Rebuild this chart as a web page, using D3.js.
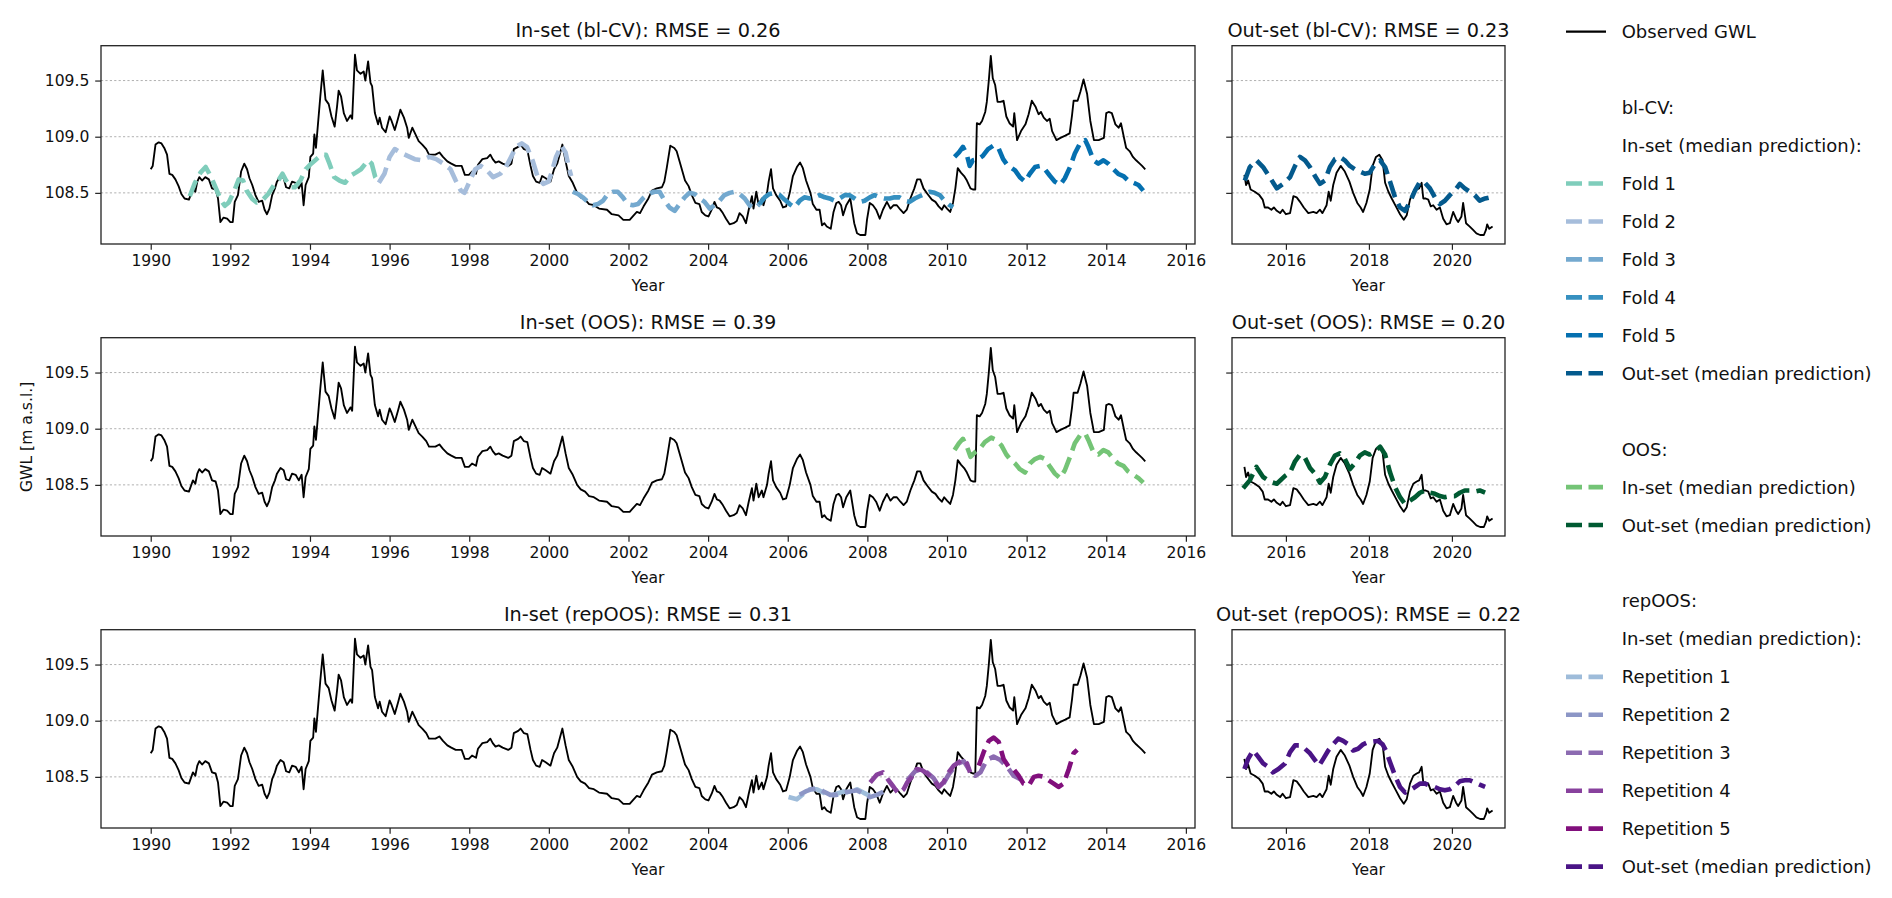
<!DOCTYPE html>
<html><head><meta charset="utf-8">
<script src="https://cdn.jsdelivr.net/npm/d3@7"></script>
<style>body{margin:0;background:#fff}svg{font-family:"DejaVu Sans",sans-serif}</style>
</head><body><svg id="c" width="1892" height="898"></svg>
<script>
// ---------------- DATA ----------------
const obsIn = [[1990.00,108.71],[1990.05,108.74],[1990.12,108.93],[1990.20,108.95],[1990.27,108.94],[1990.34,108.90],[1990.41,108.84],[1990.47,108.67],[1990.54,108.66],[1990.62,108.62],[1990.70,108.56],[1990.77,108.49],[1990.85,108.45],[1990.96,108.44],[1991.02,108.50],[1991.06,108.54],[1991.12,108.51],[1991.17,108.60],[1991.22,108.64],[1991.29,108.61],[1991.37,108.64],[1991.46,108.62],[1991.54,108.54],[1991.63,108.53],[1991.69,108.45],[1991.75,108.24],[1991.83,108.28],[1991.92,108.27],[1992.00,108.24],[1992.06,108.24],[1992.11,108.42],[1992.19,108.48],[1992.27,108.69],[1992.35,108.76],[1992.42,108.71],[1992.48,108.63],[1992.55,108.57],[1992.63,108.48],[1992.71,108.42],[1992.80,108.43],[1992.86,108.35],[1992.92,108.31],[1992.98,108.36],[1993.05,108.48],[1993.12,108.54],[1993.17,108.60],[1993.26,108.65],[1993.34,108.63],[1993.40,108.55],[1993.48,108.54],[1993.55,108.60],[1993.64,108.59],[1993.72,108.54],[1993.79,108.59],[1993.84,108.39],[1993.89,108.57],[1993.97,108.64],[1994.01,108.82],[1994.08,108.85],[1994.11,109.02],[1994.15,108.90],[1994.20,109.11],[1994.26,109.36],[1994.32,109.59],[1994.39,109.33],[1994.47,109.29],[1994.54,109.18],[1994.62,109.09],[1994.68,109.27],[1994.72,109.41],[1994.78,109.36],[1994.85,109.21],[1994.93,109.14],[1995.02,109.19],[1995.06,109.16],[1995.13,109.73],[1995.18,109.59],[1995.27,109.56],[1995.35,109.58],[1995.39,109.50],[1995.46,109.67],[1995.52,109.48],[1995.56,109.45],[1995.63,109.21],[1995.71,109.11],[1995.75,109.17],[1995.81,109.08],[1995.90,109.04],[1996.00,109.18],[1996.05,109.14],[1996.13,109.06],[1996.21,109.16],[1996.27,109.24],[1996.36,109.17],[1996.44,109.08],[1996.48,108.99],[1996.57,109.08],[1996.65,109.02],[1996.73,108.96],[1996.82,108.93],[1996.92,108.89],[1996.99,108.84],[1997.15,108.84],[1997.25,108.86],[1997.34,108.82],[1997.45,108.78],[1997.55,108.76],[1997.66,108.74],[1997.81,108.74],[1997.89,108.66],[1997.99,108.66],[1998.07,108.69],[1998.17,108.67],[1998.22,108.75],[1998.33,108.80],[1998.45,108.81],[1998.53,108.84],[1998.59,108.80],[1998.66,108.77],[1998.74,108.78],[1998.84,108.76],[1998.98,108.74],[1999.06,108.76],[1999.12,108.89],[1999.23,108.91],[1999.29,108.93],[1999.37,108.89],[1999.46,108.88],[1999.54,108.74],[1999.60,108.65],[1999.68,108.60],[1999.77,108.59],[1999.83,108.65],[1999.92,108.63],[2000.04,108.60],[2000.13,108.71],[2000.21,108.76],[2000.34,108.93],[2000.42,108.78],[2000.50,108.65],[2000.60,108.59],[2000.71,108.50],[2000.80,108.46],[2000.91,108.44],[2001.01,108.40],[2001.13,108.39],[2001.26,108.36],[2001.46,108.35],[2001.58,108.31],[2001.75,108.30],[2001.87,108.26],[2002.03,108.26],[2002.13,108.30],[2002.21,108.33],[2002.29,108.32],[2002.38,108.38],[2002.50,108.45],[2002.59,108.52],[2002.71,108.54],[2002.84,108.55],[2002.90,108.60],[2002.96,108.72],[2003.05,108.92],[2003.15,108.90],[2003.21,108.87],[2003.30,108.76],[2003.42,108.61],[2003.51,108.56],[2003.59,108.48],[2003.68,108.41],[2003.78,108.40],[2003.84,108.33],[2003.93,108.30],[2004.01,108.29],[2004.09,108.35],[2004.16,108.42],[2004.22,108.37],[2004.29,108.36],[2004.37,108.32],[2004.45,108.27],[2004.54,108.22],[2004.64,108.23],[2004.72,108.25],[2004.79,108.32],[2004.87,108.29],[2004.95,108.23],[2005.02,108.35],[2005.10,108.47],[2005.14,108.36],[2005.21,108.51],[2005.27,108.39],[2005.35,108.45],[2005.39,108.39],[2005.48,108.50],[2005.52,108.60],[2005.58,108.71],[2005.63,108.54],[2005.71,108.48],[2005.81,108.43],[2005.88,108.37],[2005.96,108.38],[2006.05,108.50],[2006.13,108.65],[2006.23,108.73],[2006.31,108.77],[2006.38,108.72],[2006.46,108.61],[2006.57,108.50],[2006.63,108.40],[2006.72,108.35],[2006.80,108.35],[2006.86,108.21],[2006.92,108.23],[2006.98,108.20],[2007.08,108.18],[2007.15,108.33],[2007.22,108.41],[2007.28,108.42],[2007.34,108.39],[2007.39,108.30],[2007.47,108.39],[2007.57,108.45],[2007.67,108.23],[2007.74,108.14],[2007.82,108.125],[2007.95,108.125],[2007.99,108.26],[2008.06,108.41],[2008.14,108.39],[2008.22,108.35],[2008.31,108.27],[2008.39,108.35],[2008.49,108.42],[2008.58,108.36],[2008.66,108.39],[2008.74,108.39],[2008.83,108.35],[2008.91,108.32],[2008.99,108.35],[2009.08,108.45],[2009.18,108.54],[2009.25,108.62],[2009.33,108.62],[2009.41,108.54],[2009.51,108.49],[2009.62,108.44],[2009.71,108.42],[2009.79,108.38],[2009.87,108.35],[2009.93,108.39],[2010.00,108.36],[2010.08,108.33],[2010.15,108.41],[2010.21,108.54],[2010.27,108.72],[2010.35,108.68],[2010.43,108.65],[2010.50,108.61],[2010.59,108.54],[2010.65,108.53],[2010.71,108.53],[2010.75,109.12],[2010.82,109.11],[2010.88,109.14],[2010.96,109.22],[2011.00,109.31],[2011.05,109.50],[2011.10,109.72],[2011.15,109.52],[2011.21,109.46],[2011.27,109.31],[2011.34,109.31],[2011.42,109.32],[2011.49,109.18],[2011.57,109.12],[2011.66,109.09],[2011.69,109.21],[2011.76,108.97],[2011.86,109.05],[2011.97,109.11],[2012.05,109.20],[2012.13,109.32],[2012.22,109.27],[2012.30,109.20],[2012.36,109.22],[2012.43,109.17],[2012.51,109.14],[2012.58,109.16],[2012.64,109.05],[2012.75,108.97],[2012.85,108.99],[2012.97,109.01],[2013.08,109.03],[2013.14,109.19],[2013.18,109.32],[2013.28,109.32],[2013.35,109.40],[2013.43,109.51],[2013.52,109.38],[2013.60,109.14],[2013.69,108.97],[2013.81,108.97],[2013.94,108.99],[2014.00,109.21],[2014.06,109.22],[2014.14,109.21],[2014.23,109.11],[2014.31,109.08],[2014.37,109.12],[2014.44,109.00],[2014.50,108.90],[2014.59,108.87],[2014.67,108.82],[2014.75,108.79],[2014.84,108.76],[2014.90,108.74],[2014.98,108.71]];

const obsOut = [[2015.00,108.66],[2015.04,108.57],[2015.09,108.61],[2015.15,108.53],[2015.25,108.51],[2015.36,108.48],[2015.44,108.44],[2015.49,108.37],[2015.57,108.37],[2015.65,108.35],[2015.71,108.37],[2015.78,108.34],[2015.86,108.32],[2015.92,108.35],[2016.00,108.31],[2016.10,108.32],[2016.18,108.47],[2016.26,108.46],[2016.34,108.42],[2016.43,108.37],[2016.54,108.32],[2016.66,108.33],[2016.74,108.32],[2016.82,108.35],[2016.88,108.32],[2016.98,108.39],[2017.03,108.51],[2017.08,108.43],[2017.14,108.57],[2017.22,108.68],[2017.32,108.74],[2017.42,108.69],[2017.53,108.60],[2017.62,108.50],[2017.72,108.41],[2017.80,108.37],[2017.86,108.33],[2017.94,108.41],[2018.02,108.53],[2018.09,108.74],[2018.17,108.82],[2018.25,108.84],[2018.33,108.79],[2018.39,108.59],[2018.47,108.51],[2018.55,108.45],[2018.65,108.38],[2018.75,108.31],[2018.84,108.26],[2018.91,108.30],[2018.99,108.44],[2019.07,108.51],[2019.15,108.53],[2019.21,108.54],[2019.27,108.59],[2019.31,108.45],[2019.37,108.45],[2019.43,108.44],[2019.49,108.38],[2019.55,108.39],[2019.63,108.35],[2019.71,108.37],[2019.79,108.27],[2019.87,108.22],[2019.95,108.23],[2020.03,108.33],[2020.10,108.27],[2020.15,108.24],[2020.23,108.29],[2020.27,108.41],[2020.34,108.23],[2020.43,108.20],[2020.51,108.17],[2020.59,108.14],[2020.68,108.125],[2020.77,108.125],[2020.82,108.17],[2020.85,108.22],[2020.90,108.18],[2020.98,108.20]];

// bl-CV in-set folds
const fold1 = [[1990.98,108.47],[1991.11,108.59],[1991.25,108.68],[1991.38,108.73],[1991.52,108.64],[1991.65,108.53],[1991.77,108.43],[1991.86,108.385],[1991.96,108.415],[1992.10,108.52],[1992.21,108.62],[1992.32,108.61],[1992.41,108.52],[1992.55,108.445],[1992.66,108.415],[1992.82,108.44],[1992.95,108.49],[1993.09,108.565],[1993.22,108.62],[1993.31,108.67],[1993.40,108.61],[1993.51,108.55],[1993.62,108.55],[1993.76,108.61],[1993.89,108.71],[1994.03,108.76],[1994.16,108.80],[1994.30,108.84],[1994.40,108.84],[1994.49,108.76],[1994.61,108.64],[1994.74,108.61],[1994.88,108.59],[1995.01,108.65],[1995.15,108.68],[1995.28,108.71],[1995.46,108.79],[1995.55,108.76],[1995.64,108.64],[1995.73,108.59]];
const fold2 = [[1995.73,108.59],[1995.87,108.67],[1996.00,108.82],[1996.13,108.89],[1996.27,108.86],[1996.45,108.83],[1996.63,108.80],[1996.81,108.79],[1996.99,108.82],[1997.17,108.80],[1997.35,108.76],[1997.53,108.71],[1997.66,108.61],[1997.79,108.52],[1997.88,108.50],[1998.02,108.61],[1998.15,108.71],[1998.29,108.74],[1998.42,108.71],[1998.60,108.64],[1998.78,108.67],[1998.92,108.73],[1999.05,108.82],[1999.18,108.91],[1999.32,108.94],[1999.45,108.91],[1999.59,108.79],[1999.72,108.64],[1999.86,108.58],[1999.99,108.60],[2000.06,108.67],[2000.18,108.82],[2000.31,108.92],[2000.42,108.86],[2000.50,108.73],[2000.56,108.65]];
const fold3 = [[2000.60,108.51],[2000.73,108.49],[2000.85,108.46],[2000.98,108.42],[2001.11,108.39],[2001.23,108.40],[2001.36,108.43],[2001.48,108.49],[2001.61,108.51],[2001.73,108.51],[2001.86,108.46],[2001.98,108.40],[2002.11,108.39],[2002.24,108.40],[2002.36,108.45],[2002.49,108.49],[2002.65,108.51],[2002.78,108.51],[2002.91,108.43],[2003.03,108.37],[2003.16,108.34],[2003.28,108.40],[2003.41,108.46],[2003.53,108.50],[2003.66,108.49],[2003.79,108.45],[2003.91,108.42],[2004.04,108.36],[2004.16,108.39],[2004.29,108.43],[2004.41,108.48],[2004.54,108.50],[2004.66,108.51],[2004.79,108.49],[2004.92,108.45],[2005.04,108.39],[2005.17,108.36],[2005.29,108.40]];
const fold4 = [[2005.29,108.40],[2005.42,108.46],[2005.54,108.49],[2005.67,108.50],[2005.80,108.48],[2005.92,108.44],[2006.05,108.40],[2006.17,108.37],[2006.30,108.43],[2006.42,108.46],[2006.55,108.45],[2006.68,108.46],[2006.80,108.48],[2006.93,108.46],[2007.05,108.45],[2007.18,108.43],[2007.30,108.45],[2007.43,108.48],[2007.55,108.48],[2007.68,108.45],[2007.81,108.42],[2007.93,108.43],[2008.06,108.46],[2008.18,108.48],[2008.31,108.46],[2008.43,108.45],[2008.56,108.45],[2008.68,108.46],[2008.81,108.46],[2008.94,108.43],[2009.06,108.42],[2009.19,108.45],[2009.31,108.47],[2009.44,108.49],[2009.56,108.51],[2009.69,108.50],[2009.82,108.48],[2009.94,108.43],[2010.07,108.39],[2010.15,108.37]];
const fold5 = [[2010.19,108.82],[2010.30,108.86],[2010.40,108.91],[2010.49,108.85],[2010.57,108.74],[2010.65,108.79],[2010.78,108.80],[2010.90,108.83],[2011.03,108.89],[2011.16,108.92],[2011.28,108.91],[2011.41,108.80],[2011.53,108.74],[2011.63,108.72],[2011.71,108.70],[2011.83,108.64],[2011.96,108.60],[2012.08,108.67],[2012.21,108.73],[2012.34,108.74],[2012.46,108.71],[2012.59,108.65],[2012.71,108.60],[2012.84,108.57],[2012.96,108.63],[2013.09,108.73],[2013.21,108.85],[2013.34,108.94],[2013.47,108.97],[2013.55,108.91],[2013.68,108.79],[2013.80,108.76],[2013.93,108.79],[2014.05,108.76],[2014.18,108.71],[2014.30,108.67],[2014.43,108.65],[2014.55,108.61],[2014.68,108.59],[2014.81,108.57],[2014.93,108.52]];
const blcvOut = [[2015.01,108.61],[2015.13,108.73],[2015.29,108.79],[2015.45,108.73],[2015.61,108.64],[2015.78,108.54],[2015.93,108.58],[2016.10,108.64],[2016.22,108.74],[2016.34,108.82],[2016.46,108.79],[2016.58,108.73],[2016.70,108.65],[2016.82,108.58],[2016.94,108.61],[2017.06,108.73],[2017.18,108.80],[2017.30,108.82],[2017.42,108.79],[2017.54,108.74],[2017.66,108.71],[2017.78,108.69],[2017.90,108.67],[2018.02,108.68],[2018.15,108.76],[2018.27,108.79],[2018.39,108.73],[2018.51,108.60],[2018.63,108.46],[2018.75,108.37],[2018.87,108.34],[2018.99,108.42],[2019.11,108.52],[2019.23,108.60],[2019.35,108.59],[2019.47,108.54],[2019.59,108.46],[2019.71,108.40],[2019.83,108.43],[2019.95,108.48],[2020.07,108.52],[2020.19,108.58],[2020.31,108.54],[2020.43,108.51],[2020.55,108.48],[2020.67,108.43],[2020.80,108.45],[2020.92,108.46]];

// OOS
const oosIn = [[2010.19,108.81],[2010.30,108.87],[2010.40,108.91],[2010.50,108.84],[2010.59,108.75],[2010.70,108.79],[2010.82,108.82],[2010.95,108.88],[2011.11,108.92],[2011.24,108.90],[2011.37,108.85],[2011.49,108.77],[2011.58,108.73],[2011.71,108.69],[2011.83,108.64],[2011.96,108.61],[2012.08,108.69],[2012.21,108.73],[2012.34,108.75],[2012.46,108.73],[2012.59,108.66],[2012.71,108.60],[2012.84,108.56],[2012.96,108.63],[2013.09,108.75],[2013.21,108.87],[2013.34,108.94],[2013.47,108.96],[2013.55,108.90],[2013.68,108.79],[2013.80,108.77],[2013.93,108.81],[2014.05,108.79],[2014.18,108.73],[2014.30,108.69],[2014.43,108.67],[2014.55,108.62],[2014.68,108.59],[2014.81,108.56],[2014.93,108.52]];
const oosOut = [[2014.97,108.47],[2015.13,108.54],[2015.29,108.66],[2015.45,108.57],[2015.61,108.53],[2015.78,108.51],[2015.98,108.58],[2016.10,108.61],[2016.22,108.71],[2016.34,108.77],[2016.46,108.74],[2016.58,108.65],[2016.70,108.60],[2016.82,108.52],[2016.94,108.57],[2017.06,108.68],[2017.18,108.76],[2017.30,108.78],[2017.42,108.73],[2017.54,108.64],[2017.66,108.69],[2017.78,108.76],[2017.90,108.79],[2018.02,108.77],[2018.15,108.80],[2018.27,108.84],[2018.39,108.77],[2018.51,108.61],[2018.63,108.48],[2018.75,108.39],[2018.87,108.33],[2018.99,108.36],[2019.11,108.39],[2019.23,108.43],[2019.35,108.45],[2019.47,108.43],[2019.59,108.42],[2019.71,108.40],[2019.83,108.39],[2019.95,108.40],[2020.07,108.40],[2020.19,108.43],[2020.31,108.45],[2020.43,108.45],[2020.55,108.44],[2020.67,108.45],[2020.80,108.43]];

// repOOS
const rep1 = [[2006.02,108.32],[2006.23,108.30],[2006.40,108.35],[2006.56,108.39],[2006.73,108.39],[2006.90,108.36],[2007.07,108.33],[2007.23,108.35],[2007.40,108.37],[2007.57,108.36],[2007.74,108.39],[2007.90,108.36],[2008.07,108.33]];
const rep2 = [[2006.30,108.34],[2006.45,108.37],[2006.60,108.39],[2006.75,108.40],[2006.90,108.37],[2007.07,108.34],[2007.23,108.34],[2007.40,108.36],[2007.57,108.37],[2007.74,108.38],[2007.90,108.35],[2008.07,108.32],[2008.24,108.34],[2008.41,108.37],[2008.51,108.39]];
const rep3 = [[2009.00,108.47],[2009.20,108.55],[2009.37,108.57],[2009.50,108.54],[2009.66,108.49],[2009.79,108.42],[2009.91,108.44],[2010.04,108.52],[2010.17,108.58],[2010.29,108.62],[2010.42,108.64],[2010.58,108.55],[2010.71,108.51],[2010.84,108.54],[2011.00,108.65],[2011.17,108.68],[2011.34,108.65],[2011.51,108.59],[2011.67,108.51],[2011.84,108.48],[2011.97,108.42]];
const rep4 = [[2008.07,108.45],[2008.24,108.52],[2008.39,108.54],[2008.53,108.47],[2008.66,108.41],[2008.78,108.35],[2008.91,108.39],[2009.00,108.45],[2009.12,108.50],[2009.24,108.57],[2009.37,108.56],[2009.50,108.53],[2009.66,108.48],[2009.79,108.41],[2009.91,108.45],[2010.04,108.54],[2010.17,108.60],[2010.29,108.63],[2010.42,108.66],[2010.50,108.62],[2010.58,108.54]];
const rep5 = [[2010.80,108.60],[2010.92,108.72],[2011.05,108.82],[2011.17,108.85],[2011.30,108.81],[2011.42,108.66],[2011.55,108.59],[2011.67,108.57],[2011.80,108.51],[2011.92,108.44],[2012.05,108.42],[2012.18,108.50],[2012.30,108.51],[2012.43,108.50],[2012.55,108.47],[2012.68,108.44],[2012.80,108.41],[2012.93,108.44],[2013.06,108.57],[2013.18,108.71],[2013.27,108.74]];
const repOut = [[2015.00,108.57],[2015.09,108.66],[2015.21,108.735],[2015.33,108.68],[2015.45,108.62],[2015.57,108.59],[2015.69,108.54],[2015.82,108.57],[2015.98,108.62],[2016.10,108.72],[2016.22,108.78],[2016.34,108.78],[2016.46,108.75],[2016.58,108.71],[2016.70,108.65],[2016.80,108.60],[2016.90,108.66],[2017.02,108.735],[2017.14,108.79],[2017.26,108.84],[2017.38,108.82],[2017.50,108.79],[2017.62,108.735],[2017.74,108.75],[2017.86,108.79],[2017.98,108.81],[2018.10,108.815],[2018.22,108.82],[2018.33,108.79],[2018.41,108.735],[2018.51,108.63],[2018.63,108.51],[2018.75,108.41],[2018.87,108.36],[2018.99,108.38],[2019.11,108.41],[2019.23,108.44],[2019.35,108.44],[2019.47,108.42],[2019.59,108.41],[2019.71,108.39],[2019.83,108.38],[2019.95,108.39],[2020.07,108.42],[2020.19,108.46],[2020.31,108.47],[2020.43,108.47],[2020.55,108.45],[2020.67,108.43],[2020.80,108.41]];

const xTicksIn = [1990,1992,1994,1996,1998,2000,2002,2004,2006,2008,2010,2012,2014,2016];
const xTicksOut = [2016,2018,2020];
const yTicks = [108.5,109.0,109.5];
const titlesIn = ["In-set (bl-CV): RMSE = 0.26","In-set (OOS): RMSE = 0.39","In-set (repOOS): RMSE = 0.31"];
const titlesOut = ["Out-set (bl-CV): RMSE = 0.23","Out-set (OOS): RMSE = 0.20","Out-set (repOOS): RMSE = 0.22"];

// ---------------- STYLE / LAYOUT ----------------
const C = {
  fold: ["#7fcdbb","#a6bddb","#74a9cf","#3690c0","#0570b0"], blOut:"#045a8d",
  oosIn:"#74c476", oosOut:"#005a32",
  rep: ["#9ebcda","#8c96c6","#8c6bb1","#88419d","#810f7c"], repOut:"#4a1486"
};
const L = {xIn:[101,1195], xOut:[1232,1505], tops:[45.7,337.7,629.7], h:198.3};
const FS = {title:19.3, tick:15.6, label:15.6, legend:18};

const svg = d3.select("#c");

function pad(ext, f){const r=ext[1]-ext[0];return [ext[0]-r*f, ext[1]+r*f];}
const xIn = d3.scaleLinear().domain(pad(d3.extent(obsIn,d=>d[0]),0.05)).range(L.xIn);
const xOut = d3.scaleLinear().domain(pad(d3.extent(obsOut,d=>d[0]),0.05)).range(L.xOut);
const allY = [].concat(obsIn,obsOut,fold1,fold2,fold3,fold4,fold5,blcvOut,oosIn,oosOut,rep1,rep2,rep3,rep4,rep5,repOut).map(d=>d[1]);

const rows = [
  {inSeries:[[fold1,C.fold[0]],[fold2,C.fold[1]],[fold3,C.fold[2]],[fold4,C.fold[3]],[fold5,C.fold[4]]], outSeries:[[blcvOut,C.blOut]]},
  {inSeries:[[oosIn,C.oosIn]], outSeries:[[oosOut,C.oosOut]]},
  {inSeries:[[rep1,C.rep[0]],[rep2,C.rep[1]],[rep3,C.rep[2]],[rep4,C.rep[3]],[rep5,C.rep[4]]], outSeries:[[repOut,C.repOut]]}
];

function panel(r, isIn){
  const top = L.tops[r], bottom = top + L.h;
  const x = isIn ? xIn : xOut;
  const y = d3.scaleLinear().domain(pad(d3.extent(allY),0.05)).range([bottom, top]);
  const [x0,x1] = x.range();
  const g = svg.append("g");
  g.selectAll(".grid").data(yTicks).join("line")
    .attr("x1",x0).attr("x2",x1).attr("y1",d=>y(d)).attr("y2",d=>y(d))
    .attr("stroke","#a8a8a8").attr("stroke-width",0.9).attr("stroke-dasharray","2.2,2.2");
  const line = d3.line().x(d=>x(d[0])).y(d=>y(d[1]));
  g.append("path").datum(isIn?obsIn:obsOut).attr("d",line)
    .attr("fill","none").attr("stroke","#000").attr("stroke-width",1.85).attr("stroke-linejoin","round");
  const ser = isIn ? rows[r].inSeries : rows[r].outSeries;
  ser.forEach(([data,col])=>{
    g.append("path").datum(data).attr("d",line).attr("fill","none")
      .attr("stroke",col).attr("stroke-width",4.6).attr("stroke-dasharray","17,7.3")
      .attr("stroke-linecap","butt").attr("stroke-linejoin","round");
  });
  g.append("rect").attr("x",x0).attr("y",top).attr("width",x1-x0).attr("height",L.h)
    .attr("fill","none").attr("stroke","#222").attr("stroke-width",1.3);
  const xa = d3.axisBottom(x).tickValues(isIn?xTicksIn:xTicksOut).tickFormat(d3.format("d")).tickSize(5.8).tickPadding(5.2);
  const gx = g.append("g").attr("transform",`translate(0,${bottom})`).call(xa);
  gx.select(".domain").remove();
  gx.selectAll("line").attr("stroke","#222").attr("stroke-width",1.2);
  gx.selectAll("text").attr("font-size",FS.tick).attr("font-family","DejaVu Sans").attr("fill","#111");
  const ya = d3.axisLeft(y).tickValues(yTicks).tickFormat(isIn?d3.format(".1f"):()=>"").tickSize(5.8).tickPadding(5.8);
  const gy = g.append("g").attr("transform",`translate(${x0},0)`).call(ya);
  gy.select(".domain").remove();
  gy.selectAll("line").attr("stroke","#222").attr("stroke-width",1.2);
  gy.selectAll("text").attr("font-size",FS.tick).attr("font-family","DejaVu Sans").attr("fill","#111");
  g.append("text").attr("x",(x0+x1)/2).attr("y",top-9.2).attr("text-anchor","middle")
    .attr("font-size",FS.title).attr("fill","#111").text(isIn?titlesIn[r]:titlesOut[r]);
  g.append("text").attr("x",(x0+x1)/2).attr("y",bottom+46.5).attr("text-anchor","middle")
    .attr("font-size",FS.label).attr("fill","#111").text("Year");
}
for(let r=0;r<3;r++){panel(r,true);panel(r,false);}

svg.append("text").attr("transform",`translate(32,${L.tops[1]+L.h/2}) rotate(-90)`)
  .attr("text-anchor","middle").attr("font-size",FS.label).attr("fill","#111").text("GWL [m a.s.l.]");

const legendItems = [
  {t:"Observed GWL", c:"#000", solid:true},
  null,
  {t:"bl-CV:"},
  {t:"In-set (median prediction):"},
  {t:"Fold 1", c:C.fold[0]},{t:"Fold 2", c:C.fold[1]},{t:"Fold 3", c:C.fold[2]},{t:"Fold 4", c:C.fold[3]},{t:"Fold 5", c:C.fold[4]},
  {t:"Out-set (median prediction)", c:C.blOut},
  null,
  {t:"OOS:"},
  {t:"In-set (median prediction)", c:C.oosIn},
  {t:"Out-set (median prediction)", c:C.oosOut},
  null,
  {t:"repOOS:"},
  {t:"In-set (median prediction):"},
  {t:"Repetition 1", c:C.rep[0]},{t:"Repetition 2", c:C.rep[1]},{t:"Repetition 3", c:C.rep[2]},{t:"Repetition 4", c:C.rep[3]},{t:"Repetition 5", c:C.rep[4]},
  {t:"Out-set (median prediction)", c:C.repOut}
];
const lg = svg.append("g");
legendItems.forEach((it,k)=>{
  if(!it) return;
  const yy = 31.7 + 37.95*k;
  if(it.c){
    const ln = lg.append("line").attr("x1",1566).attr("x2",1603).attr("y1",yy).attr("y2",yy)
      .attr("stroke",it.c);
    if(it.solid) ln.attr("stroke-width",2.2).attr("x2",1606);
    else ln.attr("stroke-width",4.6).attr("stroke-dasharray","16,6.5");
  }
  lg.append("text").attr("x",1621.7).attr("y",yy).attr("dy","0.36em")
    .attr("font-size",FS.legend).attr("fill","#111").text(it.t);
});
</script></body></html>
